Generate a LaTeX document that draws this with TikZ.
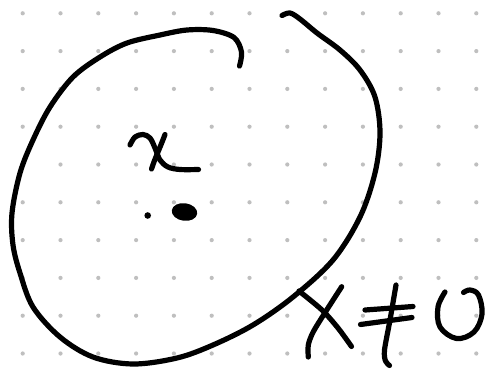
\documentclass[tikz,border=0pt]{standalone}
\begin{document}
\begin{tikzpicture}[x=1pt,y=-1pt,
  pen/.style={line width=5.2pt,line cap=round,line join=round,black},
  griddot/.style={fill=black!25,draw=none}]
\useasboundingbox (0,0) rectangle (487,370);
\fill[white] (0,0) rectangle (487,370);
% dot grid
\foreach \i in {0,...,12}{
  \foreach \j in {0,...,9}{
    \fill[griddot] ({22.7+37.8*\i},{13.3+37.8*\j}) circle (2.1);
  }
}
% big loop
\draw[pen] plot[smooth,tension=0.55] coordinates {
 (239.5,66) (241.5,52) (234,37.5) (213,30.5) (187,30) (160,35) (127,43) (100,57)
 (73,77) (50,107) (33,140) (20,173) (12,213) (13,245) (20,273) (33,307) (60,337)
 (93,357) (133,364) (177,358) (213,345) (253,325) (293,297) (333,260) (360,217)
 (375,173) (380,133) (375,97) (360,70) (340,50) (317,33) (300,19) (290,13) (282,15.5)};
% x
\draw[pen] plot[smooth,tension=0.55] coordinates {
 (130,145) (135,137) (143,134.5) (150,138) (155,148) (160,160) (168,167) (180,169.5) (198.5,169.5)};
\draw[pen] (165,134.5) .. controls (160,148) and (155,158) .. (151.5,169);
% dots
\fill (147.7,215.5) circle (3.3);
\fill[rotate around={-8:(184.5,212)}] (184.5,212) ellipse (12.8 and 8.8);
% X
\draw[pen] plot[smooth,tension=0.5] coordinates {(299,291) (322,310) (338,328) (351.5,346.5)};
\draw[pen] plot[smooth,tension=0.5] coordinates {(341.7,286.7) (326.7,310) (313.3,331.7) (308.3,345) (308.3,357)};
% not-equal
\draw[pen] (365,310) -- (413,306.5);
\draw[pen] (360.5,324.5) -- (412,317.5);
\draw[pen] plot[smooth,tension=0.5] coordinates {(396,285) (390,320) (384.5,350) (385.5,361) (389.5,365.5)};
% 0
\draw[pen] plot[smooth,tension=0.6] coordinates {
 (445,292) (438,307) (440,327) (456.5,338.5) (474,332) (482,314) (478.5,295) (470,290) (463.5,292.5)};
\end{tikzpicture}
\end{document}
